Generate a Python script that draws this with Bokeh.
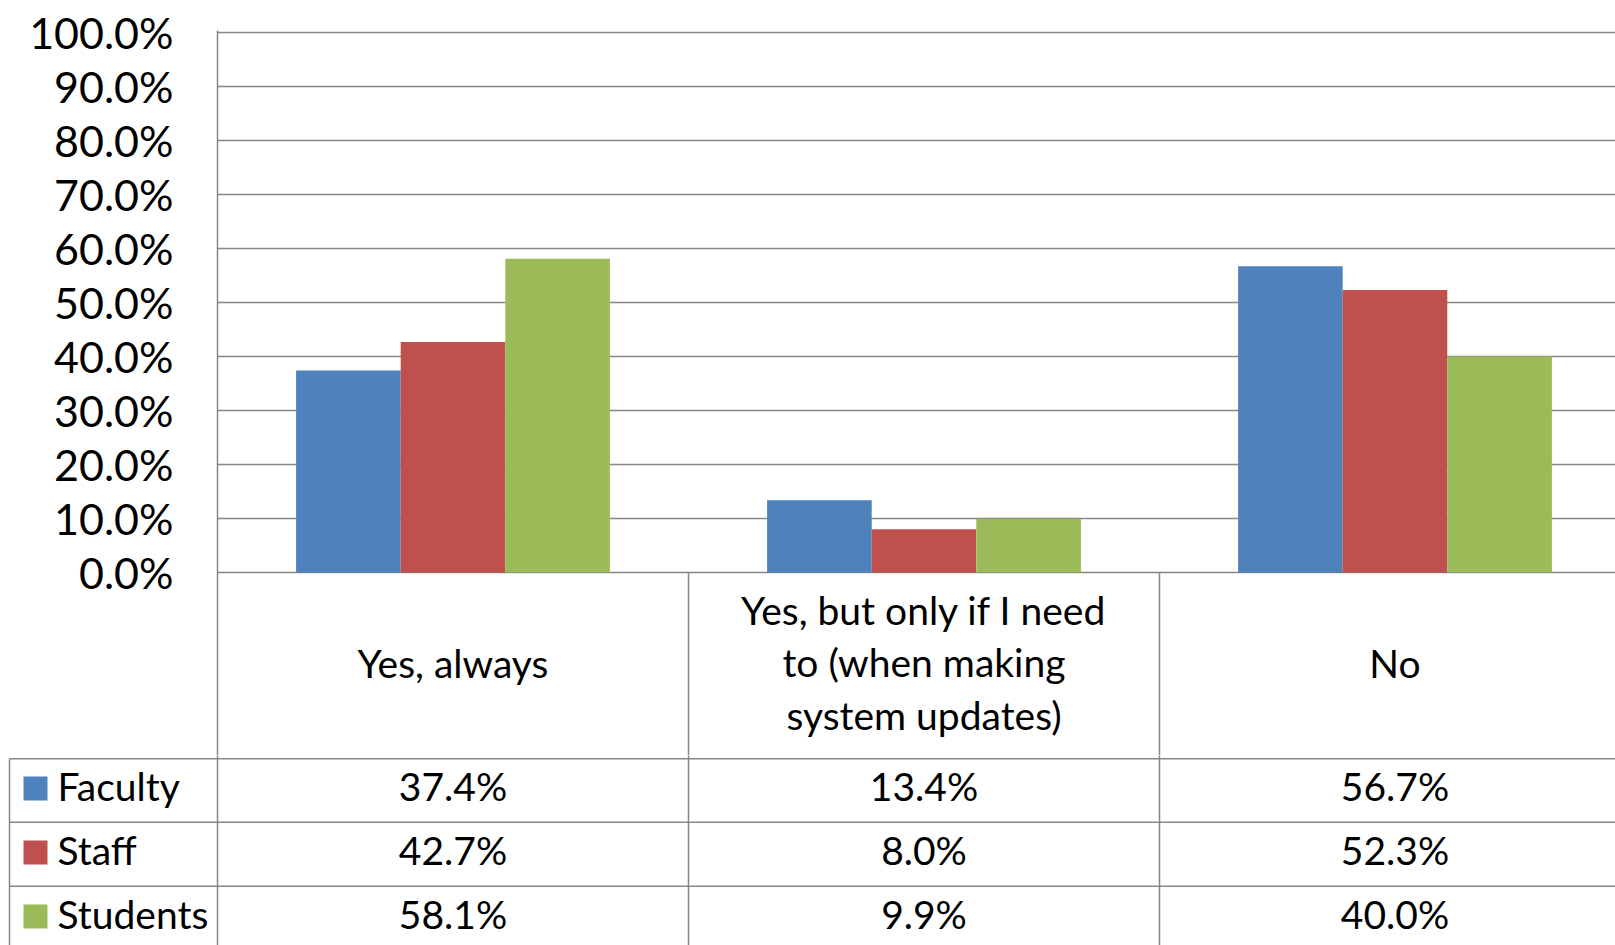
from bokeh.plotting import figure
from bokeh.models import Range1d, FixedTicker, PrintfTickFormatter
from bokeh.embed import file_html
from bokeh.resources import INLINE
from bokeh.core.properties import value

# ---------------- data ----------------
categories = ["Yes, always", "Yes, but only if I need\nto (when making\nsystem updates)", "No"]
series = ["Faculty", "Staff", "Students"]
faculty = [37.4, 13.4, 56.7]
staff = [42.7, 8.0, 52.3]
students = [58.1, 9.9, 40.0]
colors = ["#4F81BD", "#C0504D", "#9BBB59"]
y_ticks = [0, 10, 20, 30, 40, 50, 60, 70, 80, 90, 100]

# ---------------- layout constants ----------------
W = 1615
LEFT = 217          # frame left edge (px)
CAT_PX = 471.0      # pixels per category
BAR_W = 104.6 / CAT_PX
ZERO_Y = 572        # page y of 0 %
PX_PER_PCT = 5.4
TOP_FRAME = 30
SPLIT = 755         # page y where the table figure starts
H = 945
FONT = "Lato"
GRID = "#868686"
LW = 1.5

# ---------------- top chart (bars + category header row) ----------------
p = figure(width=W, height=SPLIT,
           x_range=Range1d(0, (W - LEFT) / CAT_PX),
           y_range=Range1d((ZERO_Y - SPLIT) / PX_PER_PCT, (ZERO_Y - TOP_FRAME) / PX_PER_PCT),
           output_backend="svg", toolbar_location=None,
           x_axis_location=None,
           min_border_left=LEFT, min_border_right=0,
           min_border_top=TOP_FRAME, min_border_bottom=0)
p.extra_y_ranges = {"px": Range1d(SPLIT, TOP_FRAME)}
p.outline_line_color = None
p.xgrid.visible = False
p.yaxis.ticker = FixedTicker(ticks=y_ticks)
p.yaxis.formatter = PrintfTickFormatter(format="%.1f%%")
p.yaxis.axis_line_color = GRID
p.yaxis.axis_line_width = LW
p.yaxis.major_tick_line_color = None
p.yaxis.minor_tick_line_color = None
p.yaxis.major_label_text_font = FONT
p.yaxis.major_label_text_font_size = "43px"
p.yaxis.major_label_text_color = "black"
p.yaxis.major_label_standoff = 38
p.ygrid.grid_line_color = GRID
p.ygrid.grid_line_width = LW

for k, (vals, col) in enumerate(zip([faculty, staff, students], colors)):
    xs = [i + 0.5 + (k - 1) * BAR_W for i in range(len(categories))]
    p.vbar(x=xs, top=vals, bottom=0, width=BAR_W, fill_color=col, line_color=None)

# category separators below the zero line
p.segment(x0=[1, 2], y0=[ZERO_Y, ZERO_Y], x1=[1, 2], y1=[SPLIT + 5, SPLIT + 5],
          line_color=GRID, line_width=LW, y_range_name="px")

# header (category) labels
p.text(x=[i + 0.5 for i in range(len(categories))], y=[662] * len(categories), text=categories,
       text_align="center", text_baseline="middle", text_font=value(FONT),
       text_font_size="39px", text_line_height=1.15, text_color="black", y_range_name="px")

# ---------------- data table rows ----------------
t = figure(width=W, height=H - SPLIT,
           x_range=Range1d(-LEFT / CAT_PX, (W - LEFT) / CAT_PX),
           y_range=Range1d(H, SPLIT),
           output_backend="svg", toolbar_location=None,
           x_axis_location=None, y_axis_location=None,
           min_border_left=0, min_border_right=0,
           min_border_top=0, min_border_bottom=0)
t.outline_line_color = None
t.grid.visible = False

row_lines = [758.3, 821.7, 885.7]
row_centers = [788, 852, 916]
x_end = (W - LEFT) / CAT_PX
x_left_line = (9 - LEFT) / CAT_PX
vx = [0, 1, 2]
t.segment(x0=vx, y0=[SPLIT - 5] * 3, x1=vx, y1=[H + 5] * 3, line_color=GRID, line_width=LW)
t.segment(x0=[x_left_line], y0=[row_lines[0]], x1=[x_left_line], y1=[H + 5], line_color=GRID, line_width=LW)
t.segment(x0=[x_left_line] * 3, y0=row_lines, x1=[x_end] * 3, y1=row_lines, line_color=GRID, line_width=LW)

# values
for r, vals in enumerate([faculty, staff, students]):
    t.text(x=[i + 0.5 for i in range(len(vals))], y=[row_centers[r] - 3] * len(vals),
           text=[f"{v:.1f}%" for v in vals],
           text_align="center", text_baseline="middle", text_font=value(FONT),
           text_font_size="39px", text_color="black")

# legend keys
sw_x = (35 - LEFT) / CAT_PX
t.rect(x=[sw_x] * 3, y=row_centers, width=24, height=24, width_units="screen",
       height_units="screen", fill_color=colors, line_color=None)
t.text(x=[(57 - LEFT) / CAT_PX] * 3, y=[c - 3 for c in row_centers], text=series,
       text_align="left", text_baseline="middle", text_font=value(FONT),
       text_font_size="39px", text_color="black")

open("out.html", "w").write(file_html([p, t], INLINE))
